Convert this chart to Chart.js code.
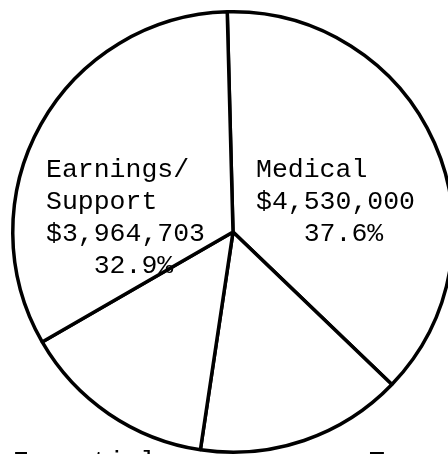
<!DOCTYPE html>
<html>
<head>
<meta charset="utf-8">
<script src="https://cdn.jsdelivr.net/npm/chart.js@4/dist/chart.umd.min.js"></script>
<style>
  html, body { margin: 0; padding: 0; background: #fff; }
  #wrap { position: relative; width: 448px; height: 454px; overflow: hidden; background: #fff; }
  #c { position: absolute; left: 0; top: 0; }
</style>
</head>
<body>
<div id="wrap"><canvas id="c" width="466" height="464"></canvas></div>
<script>
// Program spending by category (dollars), clockwise from the top
const categories = ["Medical", "T", "Essential", "Earnings/Support"];
const amounts = [4530000, 1830000, 1725000, 3964703];

// Text printed inside / below each slice
const sliceText = [
  ["Medical", "$4,530,000", "   37.6%"],
  ["T"],
  ["Essential"],
  ["Earnings/", "Support", "$3,964,703", "   32.9%"]
];
// Where each block of text sits, relative to the pie centre (px)
const textOffsets = [
  { dx: 23, dy: -55 },
  { dx: 136, dy: 237 },
  { dx: -220, dy: 237 },
  { dx: -187, dy: -55 }
];
const lineHeight = 32;

const typewriterLabels = {
  id: 'typewriterLabels',
  afterDatasetsDraw(chart) {
    const arc = chart.getDatasetMeta(0).data[0];
    if (!arc) return;
    const cx = arc.x, cy = arc.y;
    const ctx = chart.ctx;
    ctx.save();
    ctx.fillStyle = '#000';
    ctx.font = '26.5px "Liberation Mono", "DejaVu Sans Mono", monospace';
    ctx.textAlign = 'left';
    ctx.textBaseline = 'alphabetic';
    sliceText.forEach((lines, i) => {
      const o = textOffsets[i];
      lines.forEach((t, k) => {
        ctx.fillText(t, cx + o.dx, cy + o.dy + k * lineHeight);
      });
    });
    ctx.restore();
  }
};

new Chart(document.getElementById('c'), {
  type: 'pie',
  data: {
    labels: categories,
    datasets: [{
      data: amounts,
      backgroundColor: '#ffffff',
      borderColor: '#000000',
      borderWidth: 3.5,
      hoverOffset: 0
    }]
  },
  options: {
    responsive: false,
    animation: false,
    events: [],
    rotation: -1.5,
    layout: { padding: { left: 11, right: 11, top: 10, bottom: 10 } },
    plugins: {
      legend: { display: false },
      tooltip: { enabled: false }
    }
  },
  plugins: [typewriterLabels]
});
</script>
</body>
</html>
